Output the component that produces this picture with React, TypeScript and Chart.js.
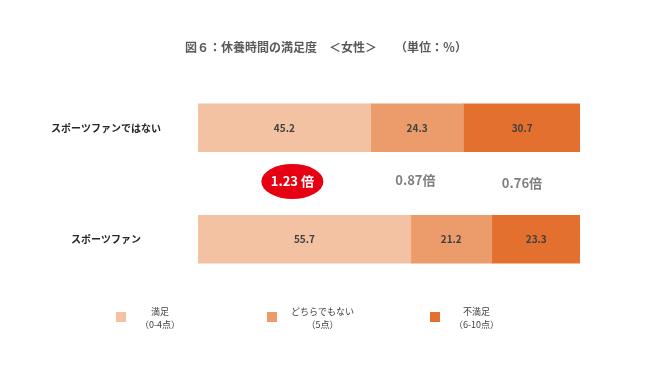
import React, { useEffect, useRef } from "react";
import { Chart, registerables } from "chart.js";

Chart.register(...registerables);

const titleText = "図６：休養時間の満足度　＜女性＞　　（単位：％）";
const categories = ["スポーツファンではない", "スポーツファン"];
const seriesNames = ["満足", "どちらでもない", "不満足"];
const seriesSubNames = ["（0-4点）", "（5点）", "（6-10点）"];
const satisfied = [45.2, 55.7];
const neutral = [24.3, 21.2];
const dissatisfied = [30.7, 23.3];
const ratioLabels = ["1.23 倍", "0.87倍", "0.76倍"];
const ratioAt = [24.7, 56.9, 84.8];
const colors = ["#F2C2A2", "#EC9C6A", "#E3702F"];

const FONT = '"Noto Sans CJK JP", "Noto Sans", sans-serif';

const overlayPlugin = {
  id: "overlay",
  afterDatasetsDraw(chart: any) {
    const ctx = chart.ctx;
    const xs = chart.scales.x;
    const ys = chart.scales.y;
    ctx.save();
    // title
    ctx.font = `bold 12px ${FONT}`;
    ctx.fillStyle = "#595959";
    ctx.textAlign = "left";
    ctx.textBaseline = "middle";
    ctx.fillText(titleText, 185, 47);
    ctx.textAlign = "center";

    // values
    ctx.font = `bold 10px ${FONT}`;
    ctx.fillStyle = "#404040";
    chart.data.datasets.forEach((ds: any, di: number) => {
      const meta = chart.getDatasetMeta(di);
      meta.data.forEach((el: any, i: number) => {
        const p = el.getProps(["x", "y", "base"], true);
        ctx.fillText(String(ds.data[i].toFixed(1)), (p.x + p.base) / 2, p.y);
      });
    });

    // ratios
    const midY = (ys.getPixelForValue(0) + ys.getPixelForValue(1)) / 2;
    ratioLabels.forEach((t, i) => {
      const x = xs.getPixelForValue(ratioAt[i]);
      const y = midY + (i === 0 ? -2 : i === 1 ? -3 : 0);
      if (i === 0) {
        ctx.fillStyle = "#E60012";
        ctx.beginPath();
        ctx.ellipse(x, y, 31, 17.5, 0, 0, Math.PI * 2);
        ctx.fill();
        ctx.fillStyle = "#FFFFFF";
      } else {
        ctx.fillStyle = "#7F7F7F";
      }
      ctx.font = `bold 13px ${FONT}`;
      ctx.fillText(t, x, y);
    });

    // legend
    const sq = [121, 272, 435];
    seriesNames.forEach((name, i) => {
      ctx.fillStyle = colors[i];
      ctx.fillRect(sq[i] - 5, 312, 10, 10);
      ctx.font = `9px ${FONT}`;
      ctx.fillStyle = "#404040";
      const w = Math.max(ctx.measureText(name).width, ctx.measureText(seriesSubNames[i]).width);
      const cx = sq[i] + 5 + 14 + w / 2;
      ctx.fillText(name, cx, 312);
      ctx.fillText(seriesSubNames[i], cx, 325);
    });
    ctx.restore();
  },
};

export default function App() {
  const ref = useRef<HTMLCanvasElement>(null);
  useEffect(() => {
    if (!ref.current) return;
    const chart = new Chart(ref.current, {
      type: "bar",
      data: {
        labels: categories,
        datasets: [
          { label: seriesNames[0], data: satisfied, backgroundColor: colors[0] },
          { label: seriesNames[1], data: neutral, backgroundColor: colors[1] },
          { label: seriesNames[2], data: dissatisfied, backgroundColor: colors[2] },
        ],
      },
      options: {
        indexAxis: "y",
        animation: false,
        responsive: true,
        maintainAspectRatio: false,
        datasets: { bar: { barThickness: 48 } },
        layout: { padding: { top: 72, bottom: 71, right: 70, left: 0 } },
        plugins: { legend: { display: false }, tooltip: { enabled: false }, title: { display: false } },
        scales: {
          x: { stacked: true, min: 0, max: 100, display: false },
          y: {
            stacked: true,
            grid: { display: false, drawTicks: false },
            border: { display: false },
            afterFit: (s: any) => {
              s.width = 198;
            },
            ticks: {
              crossAlign: "center",
              padding: 37,
              color: "#262626",
              font: { family: FONT, size: 10, weight: "bold" },
            },
          },
        },
      },
      plugins: [overlayPlugin],
    });
    return () => chart.destroy();
  }, []);
  return (
    <div style={{ position: "fixed", left: 0, top: 0, width: 650, height: 366, background: "#fff" }}>
      <canvas ref={ref} />
    </div>
  );
}
